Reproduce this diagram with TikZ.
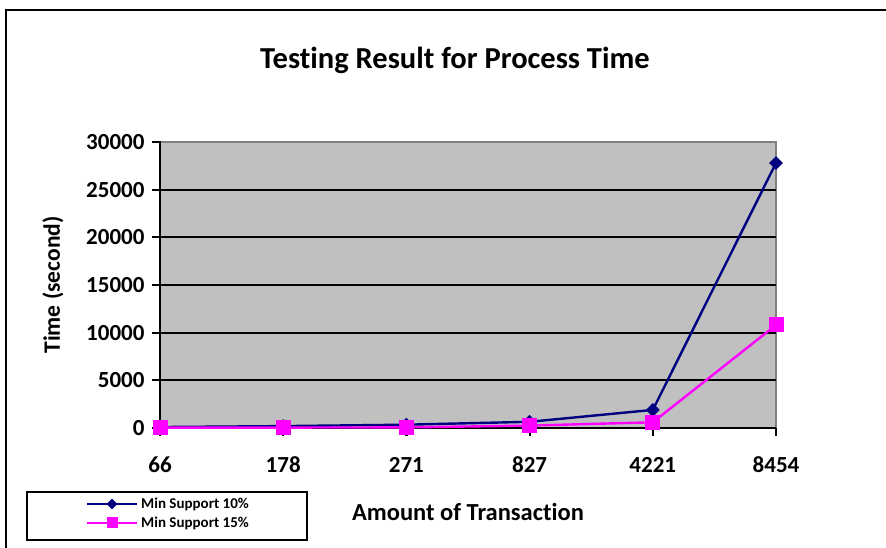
\documentclass[tikz,border=0pt]{standalone}
\usepackage{fontspec}
\setmainfont[Ligatures={NoCommon,NoRequired,NoContextual},Contextuals=NoAlternate]{Carlito}
\usepackage{tikz}
\usetikzlibrary{positioning,shapes.geometric}

\definecolor{plotgrey}{HTML}{C0C0C0}
\definecolor{edgegrey}{HTML}{808080}
\definecolor{navyline}{HTML}{000080}
\definecolor{pinkline}{HTML}{FF00FF}

\begin{document}
\begin{tikzpicture}[x=1pt, y=1pt,
  every node/.style={font=\bfseries},
  ticklabel/.style={font=\fontsize{23}{23}\bfseries\selectfont},
  axistitle/.style={font=\fontsize{24.5}{24.5}\bfseries\selectfont},
  grid/.style={line width=2.2pt, black},
  navy/.style={line width=2.4pt, navyline},
  pink/.style={line width=2.4pt, pinkline},
  diam/.style={diamond, fill=navyline, inner sep=0pt, minimum size=14pt},
  sq/.style={rectangle, fill=pinkline, inner sep=0pt, minimum size=15pt}]

\useasboundingbox (0,0) rectangle (886,548);

% Outer frame (cut off on the right and bottom)
\draw[line width=2.2pt] (6,0) -- (6,538) -- (886,538);

% Title
\node[font=\fontsize{30.5}{30.5}\bfseries\selectfont] (title) at (455,488) {Testing Result for Process Time};

% Plot area
\fill[plotgrey] (160,120) rectangle (776,406);
\draw[line width=2pt, edgegrey] (160,406) -- (776,406) -- (776,120);

% Gridlines
\draw[grid] (160,167.67) -- (776,167.67);
\draw[grid] (160,215.33) -- (776,215.33);
\draw[grid] (160,263) -- (776,263);
\draw[grid] (160,310.67) -- (776,310.67);
\draw[grid] (160,358.33) -- (776,358.33);

% Axes with ticks
\draw[grid] (152,406) -- (160,406) -- (160,120) -- (776,120);
\draw[grid] (152,120) -- (160,120);
\draw[grid] (152,167.67) -- (160,167.67);
\draw[grid] (152,215.33) -- (160,215.33);
\draw[grid] (152,263) -- (160,263);
\draw[grid] (152,310.67) -- (160,310.67);
\draw[grid] (152,358.33) -- (160,358.33);
\draw[grid] (160,120) -- (160,112);
\draw[grid] (283.2,120) -- (283.2,112);
\draw[grid] (406.4,120) -- (406.4,112);
\draw[grid] (529.6,120) -- (529.6,112);
\draw[grid] (652.8,120) -- (652.8,112);
\draw[grid] (776,120) -- (776,112);

% Y tick labels
\node[ticklabel, anchor=east] (y0) at (148,120) {0};
\node[ticklabel, anchor=east] (y5) at (148,167.67) {5000};
\node[ticklabel, anchor=east] (y10) at (148,215.33) {10000};
\node[ticklabel, anchor=east] (y15) at (148,263) {15000};
\node[ticklabel, anchor=east] (y20) at (148,310.67) {20000};
\node[ticklabel, anchor=east] (y25) at (148,358.33) {25000};
\node[ticklabel, anchor=east] (y30) at (148,406) {30000};

% X tick labels
\node[ticklabel] (x1) at (160,83) {66};
\node[ticklabel] (x2) at (283.2,83) {178};
\node[ticklabel] (x3) at (406.4,83) {271};
\node[ticklabel] (x4) at (529.6,83) {827};
\node[ticklabel] (x5) at (652.8,83) {4221};
\node[ticklabel] (x6) at (776,83) {8454};

% Axis titles
\node[axistitle, rotate=90, font=\fontsize{23.5}{23.5}\bfseries\selectfont] (ytitle) at (53,263) {Time (second)};
\node[axistitle] (xtitle) at (468,36) {Amount of Transaction};

% Data points
\coordinate (a1) at (160,120.95);
\coordinate (a2) at (283.2,121.9);
\coordinate (a3) at (406.4,123.3);
\coordinate (a4) at (529.6,126.2);
\coordinate (a5) at (652.8,138.1);
\coordinate (a6) at (776,385);
\coordinate (b1) at (160,120.3);
\coordinate (b2) at (283.2,120.4);
\coordinate (b3) at (406.4,120.6);
\coordinate (b4) at (529.6,122.4);
\coordinate (b5) at (652.8,125.7);
\coordinate (b6) at (776,223);

% Series lines
\draw[navy] (a1) -- (a2) -- (a3) -- (a4) -- (a5) -- (a6);
\draw[pink] (b1) -- (b2) -- (b3) -- (b4) -- (b5) -- (b6);

% Markers
\node[diam] (ma1) at (a1) {};
\node[diam] (ma2) at (a2) {};
\node[diam] (ma3) at (a3) {};
\node[diam] (ma4) at (a4) {};
\node[diam] (ma5) at (a5) {};
\node[diam] (ma6) at (a6) {};
\node[sq] (mb1) at (b1) {};
\node[sq] (mb2) at (b2) {};
\node[sq] (mb3) at (b3) {};
\node[sq] (mb4) at (b4) {};
\node[sq] (mb5) at (b5) {};
\node[sq] (mb6) at (b6) {};

% Legend
\draw[line width=2pt] (27,8) rectangle (307,56);
\coordinate (la) at (87,44);
\coordinate (lb) at (137,44);
\coordinate (lc) at (87,25);
\coordinate (ld) at (137,25);
\draw[navy] (la) -- (lb);
\draw[pink] (lc) -- (ld);
\node[diam, minimum size=11pt] (lma) at (112,44) {};
\node[sq, minimum size=11pt] (lmb) at (112,25) {};
\node[anchor=west, font=\fontsize{15}{15}\bfseries\selectfont, inner sep=0pt] (lta) at (141,44) {Min Support 10\%};
\node[anchor=west, font=\fontsize{15}{15}\bfseries\selectfont, inner sep=0pt] (ltb) at (141,25) {Min Support 15\%};

\end{tikzpicture}
\end{document}
